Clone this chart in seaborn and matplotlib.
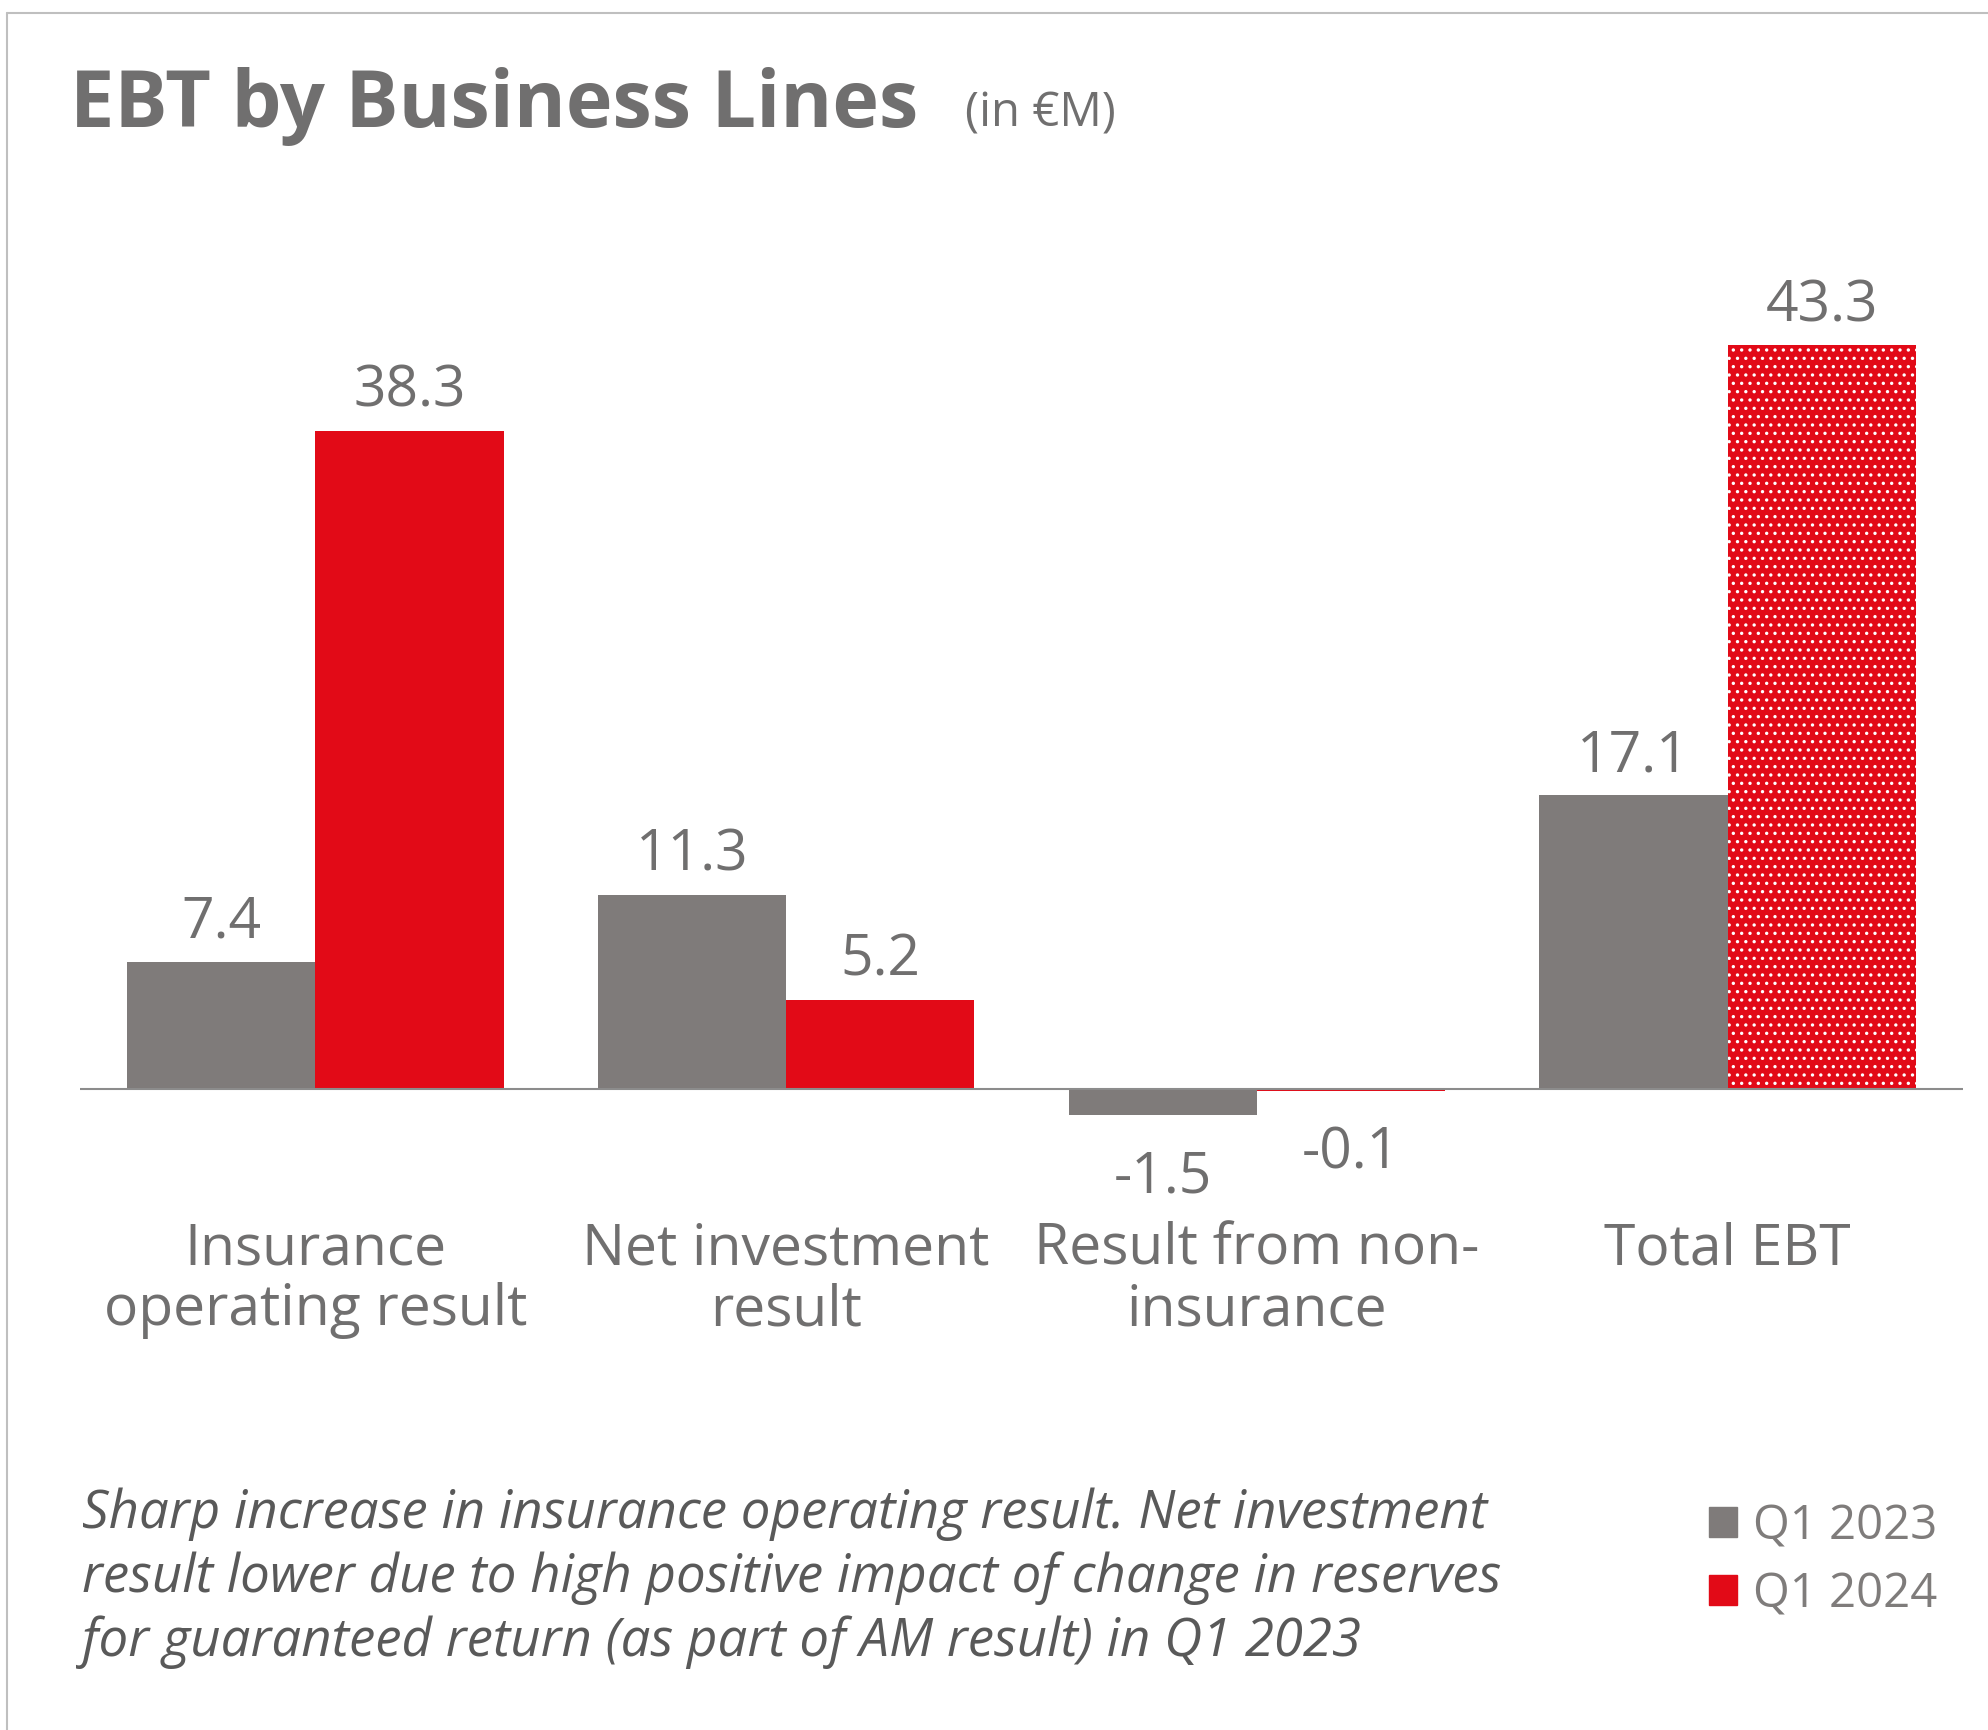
import pandas as pd
import seaborn as sns
import matplotlib.pyplot as plt
from matplotlib.lines import Line2D

# Chart data (EBT in EUR million)
categories = ['Insurance\noperating result', 'Net investment\nresult',
              'Result from non-\ninsurance', 'Total EBT']
periods = ['Q1 2023', 'Q1 2024']
q1_2023 = [7.4, 11.3, -1.5, 17.1]
q1_2024 = [38.3, 5.2, -0.1, 43.3]
colors = ['#7f7b7a', '#e20a17']

df = pd.DataFrame({
    'category': categories * 2,
    'period': [periods[0]] * len(categories) + [periods[1]] * len(categories),
    'value': q1_2023 + q1_2024,
})

sns.set_style('white')
plt.rcParams['font.family'] = ['Open Sans', 'DejaVu Sans']
plt.rcParams['hatch.linewidth'] = 1.2

text_gray = '#706f6f'

fig = plt.figure(figsize=(19.88, 17.31), dpi=100)
ax = fig.add_axes([0.0402, 0.3206, 0.9472, 0.546])

sns.barplot(data=df, x='category', y='value', hue='period', palette=colors,
            width=0.8, saturation=1, errorbar=None, linewidth=0,
            legend=False, ax=ax)

# dotted fill on the Q1 2024 total bar
total_bar = ax.containers[1][3]
total_bar.set_hatch('..')
total_bar.set_edgecolor('white')
total_bar.set_linewidth(0)

# value labels
for cont, vals in zip(ax.containers, [q1_2023, q1_2024]):
    for bar, v in zip(cont, vals):
        x = bar.get_x() + bar.get_width() / 2
        off = 18 if v >= 0 else -55
        ax.annotate(f'{v:.1f}', (x, v), xytext=(0, off), textcoords='offset points',
                    ha='center', va='baseline', fontsize=41, color=text_gray)

ax.axhline(0, color='#8c8c8c', lw=1.5, zorder=3)
ax.set_ylim(-5, 50)
ax.set_xlim(-0.5, 3.5)
ax.set_xlabel('')
ax.set_ylabel('')
ax.set_yticks([])
sns.despine(ax=ax, left=True, bottom=True)
ax.tick_params(axis='x', length=0, pad=33, labelsize=41, labelcolor=text_gray)
for lbl in ax.get_xticklabels():
    lbl.set_linespacing(1.08)

# title
fig.text(70 / 1988, 1 - 127 / 1731, 'EBT by Business Lines', fontsize=57,
         fontweight='bold', color=text_gray, va='baseline')
fig.text(965 / 1988, 1 - 127 / 1731, '(in €M)', fontsize=34,
         color=text_gray, va='baseline')

# footnote
fig.text(82 / 1988, 1 - 1488 / 1731,
         'Sharp increase in insurance operating result. Net investment\n'
         'result lower due to high positive impact of change in reserves\n'
         'for guaranteed return (as part of AM result) in Q1 2023',
         fontsize=38, style='italic', color='#595959', va='top', linespacing=1.25)

# legend
handles = [plt.Rectangle((0, 0), 1, 1, color=c) for c in colors]
fig.legend(handles, periods, loc='upper left', bbox_to_anchor=(1709 / 1988, 1 - 1503 / 1731),
           frameon=False, fontsize=34, labelcolor='#7f7c7b', handlelength=0.6,
           handleheight=0.6, handletextpad=0.34, labelspacing=0.43,
           borderpad=0, borderaxespad=0)

# frame lines (top and left only)
fig.add_artist(Line2D([7 / 1988, 1], [1 - 14 / 1731, 1 - 14 / 1731],
                      color='#bfbfbf', lw=1.5, transform=fig.transFigure))
fig.add_artist(Line2D([7 / 1988, 7 / 1988], [0, 1 - 14 / 1731],
                      color='#bfbfbf', lw=1.5, transform=fig.transFigure))

fig.savefig('out.png', dpi=100)
